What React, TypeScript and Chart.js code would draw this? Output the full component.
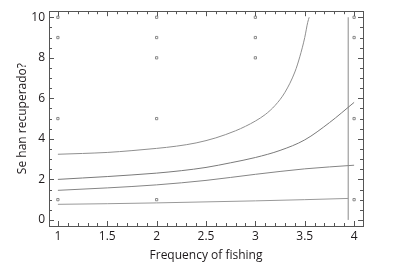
import React, { useEffect, useRef } from "react";
import { Chart, registerables } from "chart.js";

Chart.register(...registerables);

// Observed data points
const pointX = [1, 1, 1, 1, 2, 2, 2, 2, 2, 3, 3, 3, 4, 4, 4, 4];
const pointY = [10, 9, 5, 1, 10, 9, 8, 5, 1, 10, 9, 8, 10, 9, 5, 1];

// Fitted curves / bands
const curve1X = [1, 1.25, 1.5, 1.75, 2, 2.2, 2.4, 2.6, 2.8, 2.9, 3.0, 3.1, 3.2, 3.3, 3.4, 3.45, 3.5, 3.53, 3.545];
const curve1Y = [3.24, 3.28, 3.33, 3.42, 3.53, 3.64, 3.8, 4.05, 4.4, 4.62, 4.88, 5.2, 5.65, 6.3, 7.3, 8.05, 9.0, 9.75, 10.0];
const curve2X = [1, 1.25, 1.5, 1.75, 2, 2.25, 2.5, 2.75, 3, 3.25, 3.5, 3.75, 4.0];
const curve2Y = [2.0, 2.07, 2.14, 2.22, 2.31, 2.43, 2.59, 2.82, 3.08, 3.43, 3.95, 4.8, 5.8];
const curve3X = [1, 1.5, 2, 2.5, 3, 3.5, 4];
const curve3Y = [1.46, 1.58, 1.73, 1.95, 2.25, 2.52, 2.7];
const curve4X = [1, 1.5, 2, 2.5, 3, 3.5, 3.94];
const curve4Y = [0.77, 0.8, 0.84, 0.89, 0.94, 1.0, 1.06];
const vlineX = [3.94, 3.94];
const vlineY = [0, 10];

// Axes
const xTickLabels = [1, 1.5, 2, 2.5, 3, 3.5, 4];
const yTickLabels = [0, 2, 4, 6, 8, 10];
const xMinorTicks = [1, 1.1, 1.2, 1.3, 1.4, 1.5, 1.6, 1.7, 1.8, 1.9, 2, 2.1, 2.2, 2.3, 2.4, 2.5, 2.6, 2.7, 2.8, 2.9, 3, 3.1, 3.2, 3.3, 3.4, 3.5, 3.6, 3.7, 3.8, 3.9, 4];
const yMinorTicks = [0, 0.5, 1, 1.5, 2, 2.5, 3, 3.5, 4, 4.5, 5, 5.5, 6, 6.5, 7, 7.5, 8, 8.5, 9, 9.5, 10];
const xRange = [0.91, 4.09];
const yRange = [-0.3, 10.3];

const xTitle = "Frequency of fishing";
const yTitle = "Se han recuperado?";

const zip = (xs: number[], ys: number[]) => xs.map((x, i) => ({ x, y: ys[i] }));

const FONT = "'Open Sans', 'DejaVu Sans', sans-serif";
const TEXT = "#1e1a1c";
const AXIS = "#555555";
const CURVE = "#8f8f8f";

const boxTicks = {
  id: "boxTicks",
  afterDatasetsDraw(chart: any) {
    const { ctx, chartArea: a, scales } = chart;
    const xs = scales.x;
    const ys = scales.y;
    ctx.save();
    ctx.strokeStyle = AXIS;
    ctx.lineWidth = 1;
    ctx.strokeRect(Math.round(a.left) + 0.5, Math.round(a.top) + 0.5, Math.round(a.right - a.left), Math.round(a.bottom - a.top));
    ctx.beginPath();
    xMinorTicks.forEach((v) => {
      const px = Math.round(xs.getPixelForValue(v)) + 0.5;
      const major = xTickLabels.some((t) => Math.abs(t - v) < 1e-6);
      const len = major ? 5 : 3;
      ctx.moveTo(px, a.bottom);
      ctx.lineTo(px, a.bottom - len);
      ctx.moveTo(px, a.top);
      ctx.lineTo(px, a.top + len);
    });
    yMinorTicks.forEach((v) => {
      const py = Math.round(ys.getPixelForValue(v)) + 0.5;
      const major = yTickLabels.some((t) => Math.abs(t - v) < 1e-6);
      const len = major ? 5 : 3;
      ctx.moveTo(a.left, py);
      ctx.lineTo(a.left + len, py);
      ctx.moveTo(a.right, py);
      ctx.lineTo(a.right - len, py);
    });
    ctx.stroke();
    ctx.restore();
  },
};

export default function App() {
  const ref = useRef<HTMLCanvasElement | null>(null);
  useEffect(() => {
    document.body.style.margin = "0";
    const canvas = ref.current;
    if (!canvas) return;
    const lineDs = (xs: number[], ys: number[], color = CURVE) => ({
      type: "line" as const,
      data: zip(xs, ys),
      borderColor: color,
      borderWidth: 1,
      pointRadius: 0,
      showLine: true,
      fill: false,
      cubicInterpolationMode: "monotone" as const,
    });
    const chart = new Chart(canvas, {
      type: "scatter",
      data: {
        datasets: [
          lineDs(curve1X, curve1Y),
          lineDs(curve2X, curve2Y, "#7a7a7a"),
          lineDs(curve3X, curve3Y, "#858585"),
          lineDs(curve4X, curve4Y, "#999999"),
          { ...lineDs(vlineX, vlineY, "#8a8a8a"), cubicInterpolationMode: "default" as const },
          {
            type: "scatter" as const,
            data: zip(pointX, pointY),
            pointStyle: "rect",
            pointRadius: 1.6,
            borderWidth: 1,
            borderColor: "#8a8a8a",
            backgroundColor: "#ffffff",
          },
        ] as any,
      },
      options: {
        responsive: false,
        animation: false,
        devicePixelRatio: 1,
        layout: { padding: { left: 0, top: 8, right: 40, bottom: 0 } },
        plugins: { legend: { display: false }, tooltip: { enabled: false } },
        scales: {
          x: {
            type: "linear",
            min: xRange[0],
            max: xRange[1],
            grid: { display: false, drawTicks: false },
            border: { display: false },
            afterBuildTicks: (s: any) => {
              s.ticks = xTickLabels.map((v) => ({ value: v }));
            },
            afterFit: (s: any) => {
              s.height = 48;
            },
            ticks: {
              color: TEXT,
              font: { family: FONT, size: 12 },
              padding: 3,
              maxRotation: 0,
              autoSkip: false,
              callback: (v: any) => String(v),
            },
            title: {
              display: true,
              text: xTitle,
              color: TEXT,
              font: { family: FONT, size: 12 },
              padding: { top: 0, bottom: 11 },
            },
          },
          y: {
            type: "linear",
            min: yRange[0],
            max: yRange[1],
            grid: { display: false, drawTicks: false },
            border: { display: false },
            afterBuildTicks: (s: any) => {
              s.ticks = yTickLabels.map((v) => ({ value: v }));
            },
            afterFit: (s: any) => {
              s.width = 49;
            },
            ticks: {
              color: TEXT,
              font: { family: FONT, size: 12 },
              padding: 4,
              autoSkip: false,
              callback: (v: any) => String(v),
            },
            title: {
              display: true,
              text: yTitle,
              color: TEXT,
              font: { family: FONT, size: 12 },
              padding: { top: 15, bottom: 0 },
            },
          },
        },
      },
      plugins: [boxTicks],
    });
    return () => chart.destroy();
  }, []);
  return (
    <div style={{ position: "fixed", left: 0, top: 0, width: 403, height: 274, background: "#ffffff" }}>
      <canvas ref={ref} width={403} height={274} style={{ width: 403, height: 274, display: "block" }} />
    </div>
  );
}
